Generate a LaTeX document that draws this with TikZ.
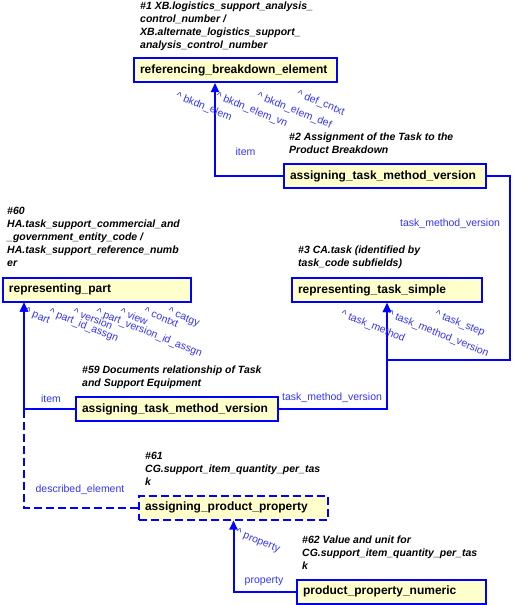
\documentclass[tikz,border=0pt]{standalone}
\usepackage{fontspec}
\setmainfont{Liberation Sans}
\usetikzlibrary{arrows.meta,calc}
\definecolor{boxfill}{RGB}{255,255,204}
\definecolor{lineblue}{RGB}{0,0,255}
\definecolor{labblue}{RGB}{51,51,255}
\begin{document}
\begin{tikzpicture}[x=1pt,y=-1pt,
  box/.style={draw=lineblue, line width=2pt, fill=boxfill, minimum height=24pt, inner xsep=6pt, inner ysep=0pt, align=left, font=\fontsize{12}{14}\selectfont\bfseries},
  dbox/.style={box, dash pattern=on 8pt off 4pt},
  conn/.style={draw=lineblue, line width=2pt, -{Triangle[length=9pt,width=8pt]}},
  dconn/.style={conn, dash pattern=on 8pt off 4pt},
  lab/.style={text=labblue, font=\fontsize{10.5}{12}\selectfont, inner sep=0pt},
  rlab/.style={lab, rotate=-22, anchor=north west},
  note/.style={font=\fontsize{10.5}{13}\selectfont\bfseries\itshape, align=left, anchor=north west, inner sep=0pt}]
\useasboundingbox (0,0) rectangle (512,605);

% notes
\node[note] (n1) at (140,2) {\#1 XB.logistics\_support\_analysis\_\\control\_number /\\XB.alternate\_logistics\_support\_\\analysis\_control\_number};
\node[note] (n2) at (289,133) {\#2 Assignment of the Task to the\\Product Breakdown};
\node[note] (n3) at (298,246) {\#3 CA.task (identified by\\task\_code subfields)};
\node[note] (n60) at (7,207) {\#60\\HA.task\_support\_commercial\_and\\\_government\_entity\_code /\\HA.task\_support\_reference\_numb\\er};
\node[note] (n59) at (82,366) {\#59 Documents relationship of Task\\and Support Equipment};
\node[note] (n61) at (145,452) {\#61\\CG.support\_item\_quantity\_per\_tas\\k};
\node[note] (n62) at (302,536) {\#62 Value and unit for\\CG.support\_item\_quantity\_per\_tas\\k};

% boxes
\node[box, text width=191pt] (rbe) at (235.5,70) {referencing\_breakdown\_element};
\node[box, text width=190pt] (atmv2) at (385,176) {assigning\_task\_method\_version};
\node[box, text width=178pt] (rts) at (387,290) {representing\_task\_simple};
\node[box, text width=176pt] (rp) at (97,289.5) {representing\_part};
\node[box, text width=190pt] (atmv59) at (177,409) {assigning\_task\_method\_version};
\node[dbox, text width=177pt] (app) at (233.5,507.5) {assigning\_product\_property};
\node[box, text width=177pt] (ppn) at (391.5,591.5) {product\_property\_numeric};

% connectors
\coordinate (rc) at (510,360);
\draw[conn] (atmv2.west) -| ([xshift=82pt]rbe.south west);
\draw[conn] (atmv2.east) -| (rc) -| (rts.south);
\draw[conn] (atmv59.east) -| (rts.south);
\draw[dconn] (app.west) -| ([xshift=22pt]rp.south west);
\draw[conn] (atmv59.west) -| ([xshift=22pt]rp.south west);
\draw[conn] (ppn.west) -| (app.south);

% straight labels
\node[lab] (li1) at (245.5,152) {item};
\node[lab, anchor=west] (ltmv1) at (400,224) {task\_method\_version};
\node[lab, anchor=west] (ltmv2) at (282,398) {task\_method\_version};
\node[lab] (li2) at (51,399) {item};
\node[lab] (lde) at (80,490) {described\_element};
\node[lab] (lpr) at (264,581) {property};

% rotated labels
\node[rlab] (r1) at (178,91) {\^{} bkdn\_elem};
\node[rlab] (r2) at (218,91) {\^{} bkdn\_elem\_vn};
\node[rlab] (r3) at (259,91) {\^{} bkdn\_elem\_def};
\node[rlab] (r4) at (299,89) {\^{} def\_cntxt};
\node[rlab] (r5) at (343,309) {\^{} task\_method};
\node[rlab] (r6) at (390,309) {\^{} task\_method\_version};
\node[rlab] (r7) at (437,309) {\^{} task\_step};
\node[rlab] (p1) at (27,307) {\^{} part};
\node[rlab] (p2) at (51,307) {\^{} part\_id\_assgn};
\node[rlab] (p3) at (75,307) {\^{} version};
\node[rlab] (p4) at (98,307) {\^{} part\_version\_id\_assgn};
\node[rlab] (p5) at (122,307) {\^{} view};
\node[rlab] (p6) at (146,307) {\^{} contxt};
\node[rlab] (p7) at (170,307) {\^{} catgy};
\node[rlab] (q1) at (238,528) {\^{} property};
\end{tikzpicture}
\end{document}
